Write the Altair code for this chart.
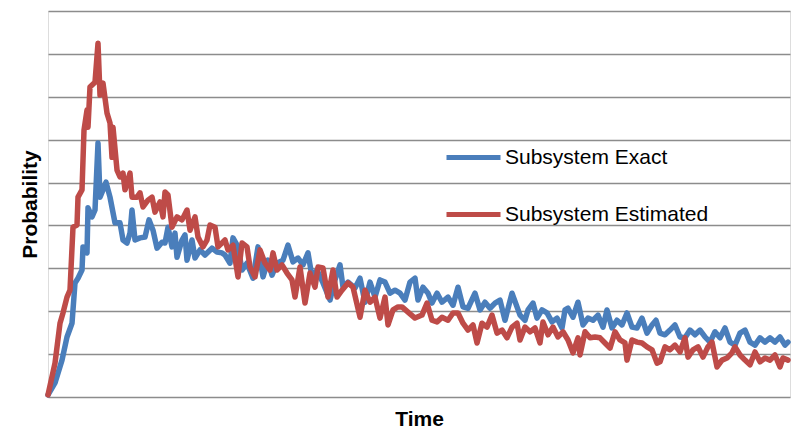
import altair as alt
import pandas as pd

exact_t = [0, 7, 14, 19, 24, 27, 30, 34, 35, 39, 40, 44, 47, 50, 52, 55, 58, 62, 67, 72,
           75, 79, 82, 84, 87, 92, 97, 101, 105, 109, 114, 117, 120, 124, 127, 129, 134, 137, 139, 144,
           147, 152, 157, 164, 169, 174, 177, 182, 185, 190, 194, 199, 205, 210, 215, 220, 224, 229, 235, 240,
           245, 250, 255, 260, 264, 269, 275, 282, 287, 292, 295, 300, 307, 312, 317, 322, 327, 332, 337, 342,
           347, 352, 357, 362, 367, 370, 375, 380, 384, 389, 394, 400, 405, 410, 415, 420, 427, 432, 437, 442,
           447, 452, 457, 464, 469, 472, 477, 480, 485, 489, 494, 499, 504, 509, 514, 517, 520, 525, 530, 535,
           540, 545, 550, 555, 559, 564, 569, 574, 579, 584, 589, 594, 599, 604, 608, 612, 617, 622, 627, 632,
           637, 642, 647, 652, 657, 662, 667, 672, 677, 682, 687, 692, 697, 702, 707, 712, 717, 722, 727, 732,
           737, 740]
exact_v = [0.05, 0.33, 0.86, 1.40, 1.72, 2.66, 2.77, 2.96, 3.50, 3.36, 4.41, 4.20, 4.36, 5.92, 4.66, 4.83, 5.01, 4.66, 4.06, 4.06,
           3.66, 3.59, 3.82, 4.36, 3.66, 3.71, 3.73, 4.13, 3.89, 3.47, 3.61, 3.59, 3.96, 3.50, 3.82, 3.26, 3.66, 3.78, 3.19, 3.66,
           3.24, 3.43, 3.31, 3.47, 3.38, 3.36, 3.31, 3.12, 3.71, 3.50, 2.96, 3.12, 2.77, 3.50, 2.80, 3.19, 2.84, 3.12, 3.19, 3.54,
           3.15, 3.24, 3.08, 3.36, 2.80, 2.96, 2.66, 2.26, 2.73, 3.08, 2.56, 2.68, 2.54, 2.77, 2.21, 2.68, 2.33, 2.73, 2.68, 2.42,
           2.49, 2.42, 2.26, 2.68, 2.77, 2.26, 2.56, 2.42, 2.19, 2.42, 2.21, 2.33, 2.14, 2.56, 2.10, 2.07, 2.42, 2.03, 2.21, 2.07,
           2.19, 2.26, 1.79, 2.42, 2.10, 1.91, 1.79, 2.03, 2.19, 1.84, 2.03, 1.96, 1.75, 1.84, 1.61, 2.03, 2.07, 1.86, 2.21, 1.68,
           1.84, 1.79, 1.91, 1.63, 2.03, 1.61, 1.79, 1.68, 1.96, 1.63, 1.61, 1.84, 1.49, 1.68, 1.79, 1.49, 1.45, 1.56, 1.68, 1.40,
           1.38, 1.56, 1.45, 1.56, 1.40, 1.28, 1.52, 1.38, 1.61, 1.28, 1.21, 1.49, 1.56, 1.28, 1.21, 1.38, 1.28, 1.38, 1.28, 1.40,
           1.21, 1.28]

est_t = [0, 7, 12, 15, 19, 22, 25, 29, 30, 34, 36, 39, 40, 42, 47, 50, 52, 55, 59, 62,
         64, 65, 69, 72, 75, 77, 82, 84, 89, 92, 95, 100, 104, 107, 112, 115, 117, 120, 124, 129,
         134, 139, 142, 147, 150, 155, 159, 162, 167, 170, 177, 180, 185, 190, 194, 199, 202, 207, 212, 217,
         222, 225, 229, 234, 239, 244, 247, 252, 257, 262, 267, 270, 275, 280, 285, 289, 294, 300, 305, 312,
         317, 322, 327, 332, 337, 340, 345, 350, 354, 360, 367, 374, 379, 384, 389, 394, 400, 405, 410, 415,
         420, 425, 429, 434, 439, 444, 449, 454, 459, 464, 469, 472, 477, 482, 487, 492, 495, 500, 505, 510,
         515, 520, 525, 530, 532, 537, 542, 547, 552, 557, 562, 567, 572, 577, 579, 584, 589, 594, 599, 604,
         609, 612, 617, 622, 627, 632, 637, 640, 645, 650, 655, 660, 664, 669, 674, 679, 684, 687, 692, 697,
         702, 707, 712, 717, 722, 727, 732, 735, 740]
est_v = [0.05, 0.79, 1.72, 1.96, 2.33, 2.49, 3.96, 4.01, 4.66, 4.83, 6.22, 6.69, 6.29, 7.23, 7.34, 8.25, 7.04, 7.32, 6.62, 6.39,
         5.59, 6.29, 5.29, 5.13, 5.22, 4.83, 5.22, 4.66, 4.66, 4.76, 4.43, 4.59, 4.66, 4.31, 4.55, 4.20, 4.78, 4.71, 3.96, 4.20,
         4.13, 4.36, 3.89, 4.20, 3.73, 3.50, 3.66, 4.01, 3.96, 3.50, 3.66, 3.43, 3.54, 2.80, 3.59, 3.50, 3.03, 2.80, 3.43, 3.12,
         2.96, 3.36, 2.96, 3.08, 2.89, 2.73, 2.33, 3.03, 2.19, 2.89, 2.56, 3.03, 3.01, 2.33, 2.96, 2.33, 2.49, 2.66, 2.56, 1.86,
         2.49, 2.21, 2.33, 1.84, 2.33, 1.68, 2.03, 2.10, 2.10, 1.98, 1.84, 1.91, 2.19, 1.79, 1.75, 1.86, 1.79, 1.96, 1.96, 1.72,
         1.56, 1.68, 1.26, 1.72, 1.63, 1.91, 1.49, 1.56, 1.38, 1.63, 1.72, 1.33, 1.63, 1.52, 1.61, 1.26, 1.75, 1.45, 1.63, 1.40,
         1.52, 1.33, 1.03, 1.38, 0.98, 1.52, 1.38, 1.40, 1.38, 1.26, 1.14, 1.52, 1.33, 1.26, 0.86, 1.33, 1.28, 1.26, 1.17, 1.10,
         0.79, 0.82, 1.17, 1.10, 1.21, 1.05, 1.38, 0.93, 1.10, 1.17, 0.93, 1.17, 1.28, 0.70, 0.86, 0.91, 1.03, 1.17, 0.98, 0.86,
         0.75, 1.05, 0.82, 0.91, 0.86, 0.98, 0.70, 0.91, 0.86]

series_names = ["Subsystem Exact", "Subsystem Estimated"]
series_colors = ["#4A7EBB", "#BE4B48"]
grid_values = [0, 1, 2, 3, 4, 5, 6, 7, 8, 9]

rows = []
for k, (tt, vv) in enumerate([(exact_t, exact_v), (est_t, est_v)]):
    for i, (a, b) in enumerate(zip(tt, vv)):
        rows.append({"Time": a, "Probability": b, "Series": series_names[k], "order": i, "s": k})
df = pd.DataFrame(rows)

FONT = "Liberation Sans"

chart = alt.Chart(df).mark_line(strokeWidth=5.5, strokeJoin="round", strokeCap="round").encode(
    x=alt.X("Time:Q", scale=alt.Scale(domain=[0, 742], nice=False, zero=False),
            axis=alt.Axis(title="Time", labels=False, ticks=False, domain=False, grid=False,
                          titleFont=FONT, titleFontSize=21, titleFontWeight="bold", titleColor="#000000",
                          titleBaseline="alphabetic", titleY=28, titleX=371, titleAlign="center")),
    y=alt.Y("Probability:Q", scale=alt.Scale(domain=[0, 9], nice=False),
            axis=alt.Axis(title="Probability", labels=False, ticks=False, domain=False, grid=True,
                          values=grid_values, gridColor="#8C8C8C", gridWidth=1.6,
                          titleFont=FONT, titleFontSize=21, titleFontWeight="bold", titleColor="#000000",
                          titleAngle=270, titleBaseline="alphabetic", titleAlign="center",
                          titleX=-12, titleY=193)),
    color=alt.Color("Series:N", scale=alt.Scale(domain=series_names, range=series_colors),
                    legend=alt.Legend(title=None, orient="none", legendX=396, legendY=117,
                                      symbolType="stroke", symbolSize=2916, symbolStrokeWidth=5,
                                      labelFont=FONT, labelFontSize=21, labelColor="#000000",
                                      labelOffset=2, rowPadding=17, padding=0, labelLimit=400)),
    detail="s:N",
    order="order:Q",
).properties(
    width=742, height=386,
    autosize=alt.AutoSizeParams(type="none"),
    padding={"left": 48, "top": 11, "right": 4, "bottom": 32},
).configure_view(stroke=None).configure(background="white")

chart.save("out.html", embed_options={"renderer": "svg", "actions": False})
